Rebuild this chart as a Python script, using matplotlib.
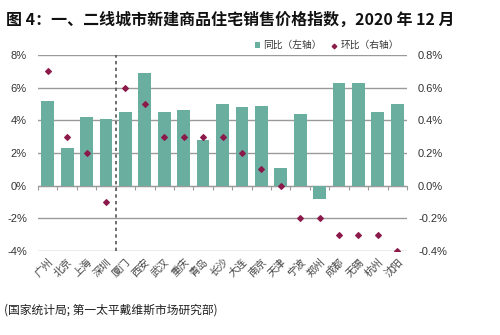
import matplotlib

matplotlib.use("Agg")
import matplotlib.pyplot as plt
import numpy as np
from matplotlib.ticker import FuncFormatter

plt.rcParams["font.family"] = ["Noto Sans CJK SC", "DejaVu Sans"]

cities = ["广州", "北京", "上海", "深圳", "厦门", "西安", "武汉", "重庆", "青岛", "长沙",
          "大连", "南京", "天津", "宁波", "郑州", "成都", "无锡", "杭州", "沈阳"]
yoy = [5.2, 2.3, 4.2, 4.1, 4.5, 6.9, 4.5, 4.6, 2.8, 5.0,
       4.8, 4.9, 1.1, 4.4, -0.8, 6.3, 6.3, 4.5, 5.0]
mom = [0.7, 0.3, 0.2, -0.1, 0.6, 0.5, 0.3, 0.3, 0.3, 0.3,
       0.2, 0.1, 0.0, -0.2, -0.2, -0.3, -0.3, -0.3, -0.4]

bar_color = "#6aaea0"
dot_color = "#8b1a4a"
grid_color = "#9a9a9a"
text_color = "#333333"

fig = plt.figure(figsize=(5.0, 3.35), dpi=100)
ax = fig.add_axes([0.076, 0.251, 0.738, 0.585])
ax2 = ax.twinx()

x = np.arange(len(cities))
ax.bar(x, yoy, width=0.66, color=bar_color, zorder=3, label="同比（左轴）")
ax2.scatter(x, mom, marker="D", s=8, color=dot_color, zorder=4, label="环比（右轴）")

ax.set_xlim(-0.5, len(cities) - 0.5)
ax.set_ylim(-4, 8)
ax2.set_ylim(-0.4, 0.8)
ax.set_yticks(np.arange(-4, 9, 2))
ax2.set_yticks(np.arange(-0.4, 0.81, 0.2))
ax.yaxis.set_major_formatter(FuncFormatter(lambda v, p: f"{v:.0f}%"))
ax2.yaxis.set_major_formatter(FuncFormatter(lambda v, p: f"{v:.1f}%"))
ax.grid(axis="y", color=grid_color, linewidth=1.0, zorder=0)

for a in (ax, ax2):
    for s in a.spines.values():
        s.set_visible(False)
    a.tick_params(axis="y", length=0, labelsize=8, colors=text_color, pad=8)
    for lab in a.get_yticklabels():
        lab.set_family(["Liberation Sans", "DejaVu Sans"])

ax.set_xticks(x)
ax.set_xticklabels(cities, rotation=45, ha="right", rotation_mode="anchor",
                   fontsize=7.5, color="#444444")
ax.tick_params(axis="x", length=0, pad=4)

# category axis line at 0% with small ticks between categories
sec = ax.secondary_xaxis(4 / 12)
sec.set_xticks(np.arange(-0.5, len(cities), 1.0))
sec.set_xticklabels([])
sec.tick_params(axis="x", direction="out", length=3, color=grid_color)
sec.spines["bottom"].set_color(grid_color)

ax.axvline(3.5, color="#555555", linestyle=(0, (2, 2)), linewidth=1.2, zorder=5)

h1, l1 = ax.get_legend_handles_labels()
h2, l2 = ax2.get_legend_handles_labels()
fig.legend(h1 + h2, l1 + l2, loc="center right", bbox_to_anchor=(0.815, 0.865),
           ncol=2, frameon=False, fontsize=7, handlelength=0.6, handleheight=0.6,
           handletextpad=0.3, columnspacing=1.0, markerscale=0.8, labelcolor=text_color)

fig.text(0.012, 0.94, "图 4：一、二线城市新建商品住宅销售价格指数，2020 年 12 月",
         fontsize=11.5, fontweight="bold", color="#111111", va="center")
fig.text(0.008, 0.075, "(国家统计局; 第一太平戴维斯市场研究部)", fontsize=8.5,
         style="italic", color="#222222", va="center")

fig.savefig("out.png", dpi=100)
